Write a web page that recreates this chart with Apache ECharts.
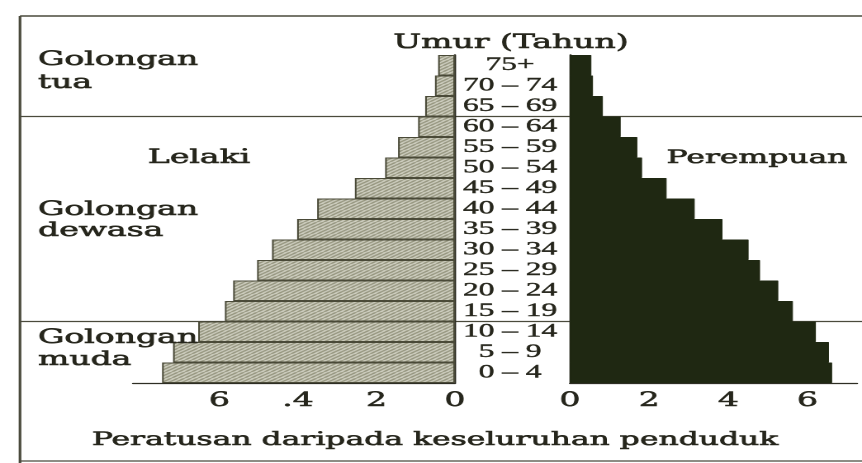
<!DOCTYPE html>
<html>
<head>
<meta charset="utf-8">
<script src="https://cdn.jsdelivr.net/npm/echarts@6/dist/echarts.min.js"></script>
<style>
html,body{margin:0;padding:0;background:#ffffff;overflow:hidden;}
#c{width:522px;height:463px;transform:scaleX(1.651341);transform-origin:0 0;}
</style>
</head>
<body>
<div id="c"></div>
<script>
// ---- data ----
const ageGroups = ['0 – 4','5 – 9','10 – 14','15 – 19','20 – 24','25 – 29','30 – 34','35 – 39','40 – 44','45 – 49','50 – 54','55 – 59','60 – 64','65 – 69','70 – 74','75+'];
const maleValues = [7.46, 7.18, 6.54, 5.86, 5.65, 5.04, 4.66, 4.02, 3.51, 2.55, 1.78, 1.45, 0.94, 0.76, 0.51, 0.43];
const femaleValues = [6.62, 6.54, 6.21, 5.63, 5.26, 4.80, 4.51, 3.85, 3.15, 2.44, 1.82, 1.70, 1.28, 0.83, 0.58, 0.54];
const leftTickLabels = {0:'0', 2:'2', 4:'.4', 6:'6'};
const rightTickLabels = {0:'0', 2:'2', 4:'4', 6:'6'};
const titleAge = 'Umur (Tahun)';
const labelMale = 'Lelaki';
const labelFemale = 'Perempuan';
const axisTitle = 'Peratusan daripada keseluruhan penduduk';
const groupOld = ['Golongan', 'tua'];
const groupAdult = ['Golongan', 'dewasa'];
const groupYoung = ['Golongan', 'muda'];

// ---- layout helpers (reference px -> internal px, chart is stretched horizontally) ----
const S = 862 / 522;
const W = 522;
const X = v => v / S;

const txt = '#26261c';
const lineC = '#4a4a3c';
const serif = 'DejaVu Serif';

// hatch pattern
const pc = document.createElement('canvas');
pc.width = 8; pc.height = 6;
const g = pc.getContext('2d');
g.fillStyle = '#e8e8de';
g.fillRect(0, 0, 8, 6);
g.strokeStyle = '#7e7e64';
g.lineWidth = 1.3;
[[-8,6,0,0],[-4,6,4,0],[0,6,8,0],[4,6,12,0],[8,6,16,0]].forEach(([a,b,c,d]) => {
  g.beginPath(); g.moveTo(a,b); g.lineTo(c,d); g.stroke();
});

const chart = echarts.init(document.getElementById('c'), null, {devicePixelRatio: 2});

const gridTop = 55, gridBottom = 80, plotH = 463 - gridTop - gridBottom;
const band = plotH / ageGroups.length;

function txtEl(text, x, y, size, align, family) {
  return {type:'text', z:100, style:{text:text, x:x, y:y, fill:txt, stroke:txt, lineWidth:0.6,
    font:size + 'px "' + (family || serif) + '"', textAlign:align || 'left', textVerticalAlign:'middle'}};
}
function lineEl(x1,y1,x2,y2,w) {
  return {type:'line', z:0, shape:{x1:x1,y1:y1,x2:x2,y2:y2}, style:{stroke:lineC, lineWidth:w||1.2}};
}
const tickLabelStyle = {margin:8, color:txt, fontSize:20, fontFamily:serif,
  textBorderColor:txt, textBorderWidth:0.5};

const option = {
  animation: false,
  backgroundColor: '#ffffff',
  grid: [
    {left: X(133), right: W - X(455), top: gridTop, bottom: gridBottom},
    {left: X(570), right: 0, top: gridTop, bottom: gridBottom}
  ],
  xAxis: [
    {type:'value', gridIndex:0, inverse:true, min:0, max:8.2, interval:2,
     axisLine:{show:true, lineStyle:{color:'#2e2e24', width:1.3}},
     axisTick:{show:false},
     splitLine:{show:false},
     axisLabel:Object.assign({}, tickLabelStyle,
       {formatter: v => (leftTickLabels[v] !== undefined ? leftTickLabels[v] : '')})},
    {type:'value', gridIndex:1, min:0, max:7.25, interval:2,
     axisLine:{show:true, lineStyle:{color:'#2e2e24', width:1.3}},
     axisTick:{show:false},
     splitLine:{show:false},
     axisLabel:Object.assign({}, tickLabelStyle,
       {formatter: v => (rightTickLabels[v] !== undefined ? rightTickLabels[v] : '')})}
  ],
  yAxis: [
    {type:'category', gridIndex:0, data:ageGroups, position:'right',
     axisLine:{show:true, lineStyle:{color:'#2e2e24', width:1.4}},
     axisTick:{show:false},
     axisLabel:{show:true, align:'center', margin: X(510) - X(455), color:txt,
       fontSize:19, fontFamily:'Liberation Serif', interval:0,
       textBorderColor:txt, textBorderWidth:0.4}},
    {type:'category', gridIndex:1, data:ageGroups,
     axisLine:{show:true, lineStyle:{color:'#2e2e24', width:1.4}},
     axisTick:{show:false}, axisLabel:{show:false}}
  ],
  series: [
    {type:'bar', name:labelMale, xAxisIndex:0, yAxisIndex:0, data:maleValues,
     barWidth:'100%', z:2,
     itemStyle:{color:{image:pc, repeat:'repeat'}, borderColor:'#4a4a38', borderWidth:1}},
    {type:'bar', name:labelFemale, xAxisIndex:1, yAxisIndex:1, data:femaleValues,
     barWidth:'100%', z:2,
     itemStyle:{color:'#1f2812', borderColor:'#1f2812', borderWidth:0.5}}
  ],
  graphic: [
    lineEl(X(20), 16, W, 16, 1.4),
    lineEl(X(20), 16, X(20), 463, 1.6),
    lineEl(X(20), gridTop + 3 * band, W, gridTop + 3 * band, 1.2),
    lineEl(X(20), gridTop + 13 * band, W, gridTop + 13 * band, 1.2),
    lineEl(X(20), 461, W, 461, 1.2),
    txtEl(groupOld[0], X(38), 60, 20),
    txtEl(groupOld[1], X(38), 83, 20),
    txtEl(labelMale, X(199), 158, 20, 'center'),
    txtEl(labelFemale, X(757), 158, 19, 'center'),
    txtEl(groupAdult[0], X(38), 210, 20),
    txtEl(groupAdult[1], X(38), 231, 20),
    txtEl(groupYoung[0], X(38), 338, 20),
    txtEl(groupYoung[1], X(38), 360, 20),
    txtEl(titleAge, X(511), 43, 20, 'center'),
    txtEl(axisTitle, X(435), 440, 19, 'center')
  ]
};
chart.setOption(option);
</script>
</body>
</html>
